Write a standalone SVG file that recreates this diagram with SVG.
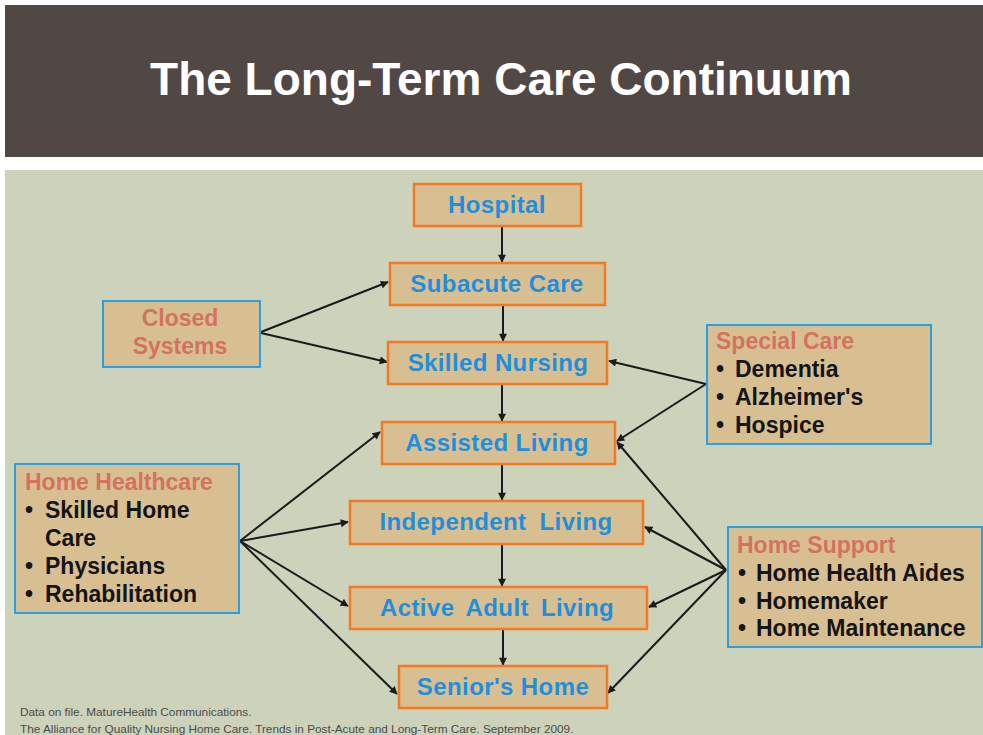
<svg xmlns="http://www.w3.org/2000/svg" width="983" height="735" viewBox="0 0 983 735">
<style>
.node rect{fill:#d8bf92;stroke:#f47a22;stroke-width:2.5}
.side rect{fill:#d8bf92;stroke:#2b9fe2;stroke-width:2}
.nt{font-family:"Liberation Sans",Arial,sans-serif;font-weight:bold;font-size:24px;letter-spacing:0.4px;fill:#1f8fdc;text-anchor:middle}
.hd{font-family:"Liberation Sans",Arial,sans-serif;font-weight:bold;font-size:23px;fill:#d3735f}
.bl{font-family:"Liberation Sans",Arial,sans-serif;font-weight:bold;font-size:23px;fill:#141414}
.conn line{stroke:#1a1a1a;stroke-width:2;marker-end:url(#ah)}
.foot{font-family:"Liberation Sans",Arial,sans-serif;font-size:11.8px;fill:#4a4a4a}
</style>
<defs>
<marker id="ah" viewBox="0 0 10 10" refX="9" refY="5" markerWidth="9" markerHeight="8" markerUnits="userSpaceOnUse" orient="auto">
<path d="M0,0 L10,5 L0,10 z" fill="#1a1a1a"/>
</marker>
</defs>
<rect x="0" y="0" width="983" height="735" fill="#ffffff"/>
<rect x="5" y="5" width="978" height="152" fill="#514745"/>
<text x="501" y="95" font-family="'Liberation Sans',Arial,sans-serif" font-weight="bold" font-size="46" fill="#ffffff" text-anchor="middle">The Long-Term Care Continuum</text>
<rect x="5" y="170" width="978" height="565" fill="#cdd2bb"/>

<g id="connectors" class="conn">
<line x1="502" y1="227" x2="502" y2="262"/>
<line x1="503" y1="306" x2="503" y2="341"/>
<line x1="502" y1="385" x2="502" y2="421"/>
<line x1="502" y1="465" x2="502" y2="500"/>
<line x1="502" y1="545" x2="502" y2="586"/>
<line x1="503" y1="630" x2="503" y2="665"/>
<line x1="261" y1="332" x2="388" y2="282"/>
<line x1="261" y1="333" x2="387" y2="362"/>
<line x1="706" y1="384" x2="609" y2="361"/>
<line x1="706" y1="384" x2="617" y2="441"/>
<line x1="726" y1="570" x2="617" y2="442"/>
<line x1="726" y1="570" x2="645" y2="527"/>
<line x1="726" y1="570" x2="649" y2="607"/>
<line x1="726" y1="570" x2="608" y2="693"/>
<line x1="240" y1="541" x2="380" y2="432"/>
<line x1="240" y1="541" x2="348" y2="522"/>
<line x1="240" y1="541" x2="348" y2="606"/>
<line x1="240" y1="541" x2="397" y2="694"/>
</g>

<g id="hospital" class="node"><rect x="414" y="184" width="167" height="42"/><text class="nt" x="497" y="213">Hospital</text></g>
<g id="subacute" class="node"><rect x="390" y="263" width="215" height="42"/><text class="nt" x="497" y="292">Subacute Care</text></g>
<g id="skilled" class="node"><rect x="388" y="342" width="219" height="42"/><text class="nt" x="498" y="371">Skilled Nursing</text></g>
<g id="assisted" class="node"><rect x="382" y="422" width="233" height="42"/><text class="nt" x="497" y="451">Assisted Living</text></g>
<g id="independent" class="node"><rect x="350" y="501" width="293" height="43"/><text class="nt" x="496" y="530" word-spacing="6">Independent Living</text></g>
<g id="active" class="node"><rect x="350" y="587" width="297" height="42"/><text class="nt" x="497" y="616" word-spacing="5">Active Adult Living</text></g>
<g id="senior" class="node"><rect x="399" y="666" width="208" height="42"/><text class="nt" x="503" y="695">Senior's Home</text></g>

<g id="closed" class="side"><rect x="103" y="301" width="157" height="66"/>
<text class="hd" x="180" y="326" text-anchor="middle">Closed</text>
<text class="hd" x="180" y="354" text-anchor="middle">Systems</text></g>

<g id="special" class="side"><rect x="707" y="325" width="224" height="119"/>
<text class="hd" x="716" y="349">Special Care</text>
<text class="bl" x="716" y="377">•</text><text class="bl" x="735" y="377">Dementia</text>
<text class="bl" x="716" y="405">•</text><text class="bl" x="735" y="405">Alzheimer's</text>
<text class="bl" x="716" y="433">•</text><text class="bl" x="735" y="433">Hospice</text></g>

<g id="homehealth" class="side"><rect x="15" y="464" width="224" height="149"/>
<text class="hd" x="25" y="490">Home Healthcare</text>
<text class="bl" x="25" y="518">•</text><text class="bl" x="45" y="518">Skilled Home</text>
<text class="bl" x="45" y="546">Care</text>
<text class="bl" x="25" y="574">•</text><text class="bl" x="45" y="574">Physicians</text>
<text class="bl" x="25" y="602">•</text><text class="bl" x="45" y="602">Rehabilitation</text></g>

<g id="homesupport" class="side"><rect x="728" y="527" width="254" height="120"/>
<text class="hd" x="737" y="553">Home Support</text>
<text class="bl" x="738" y="581">•</text><text class="bl" x="756" y="581">Home Health Aides</text>
<text class="bl" x="738" y="609">•</text><text class="bl" x="756" y="609">Homemaker</text>
<text class="bl" x="738" y="636">•</text><text class="bl" x="756" y="636">Home Maintenance</text></g>

<text class="foot" x="20" y="716">Data on file. MatureHealth Communications.</text>
<text class="foot" x="20" y="733">The Alliance for Quality Nursing Home Care. Trends in Post-Acute and Long-Term Care. September 2009.</text>
</svg>
